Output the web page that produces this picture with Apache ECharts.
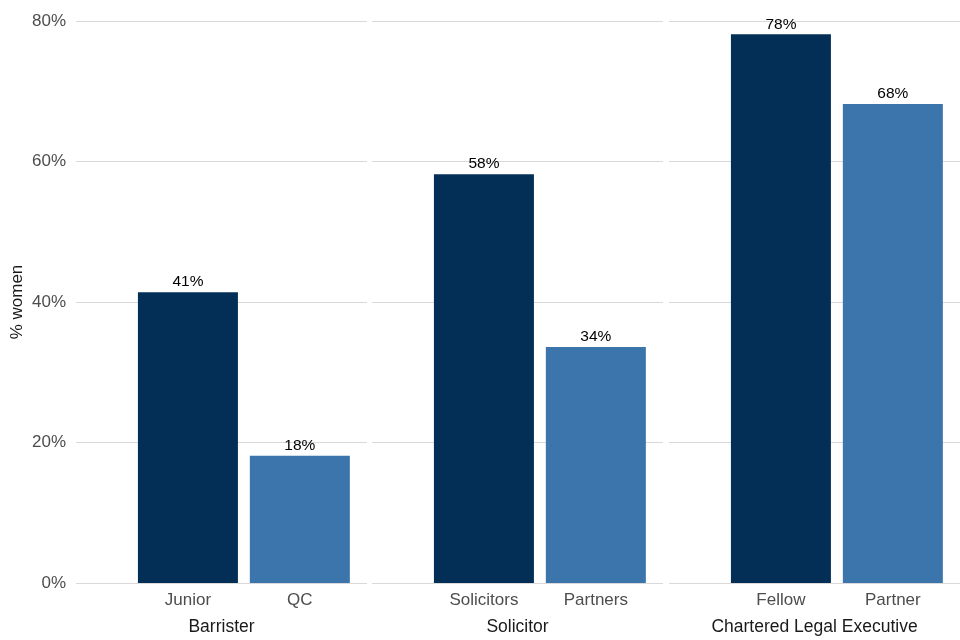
<!DOCTYPE html>
<html>
<head>
<meta charset="utf-8">
<script src="https://cdn.jsdelivr.net/npm/echarts@6/dist/echarts.min.js"></script>
<style>html,body{margin:0;padding:0;background:#fff}#c{width:960px;height:640px}</style>
</head>
<body>
<div id="c"></div>
<script>
const professions = ['Barrister', 'Solicitor', 'Chartered Legal Executive'];
const roles = [['Junior', 'QC'], ['Solicitors', 'Partners'], ['Fellow', 'Partner']];
const firstRoleValues = [41.4, 58.2, 78.1];
const secondRoleValues = [18.1, 33.6, 68.2];
const yTicks = [0, 20, 40, 60, 80];

const colors = ['#032f57', '#3b75ac'];
const FONT = '"Liberation Sans", Arial, sans-serif';
const panelLefts = [76, 372, 669];
const panelWidth = 291;

const grids = [], xAxes = [], yAxes = [], series = [];
professions.forEach((p, i) => {
  grids.push({left: panelLefts[i], width: panelWidth, top: 21, bottom: 57, containLabel: false, outerBoundsMode: 'none'});
  xAxes.push({
    type: 'value', gridIndex: i, min: 0, max: 2.6, interval: 1,
    axisLine: {show: false}, axisTick: {show: false}, splitLine: {show: false},
    axisLabel: {
      showMaxLabel: false, showMinLabel: false, margin: 9,
      color: '#4d4d4d', fontSize: 17, fontFamily: FONT,
      formatter: v => (v === 1 ? roles[i][0] : (v === 2 ? roles[i][1] : ''))
    },
    name: p, nameLocation: 'middle', nameGap: 35,
    nameTextStyle: {color: '#1a1a1a', fontSize: 17.5, fontFamily: FONT}
  });
  yAxes.push({
    type: 'value', gridIndex: i, min: yTicks[0], max: yTicks[yTicks.length - 1], interval: yTicks[1] - yTicks[0],
    axisLine: {show: false}, axisTick: {show: false},
    splitLine: {show: true, lineStyle: {color: '#d9d9d9', width: 1}},
    axisLabel: {show: i === 0, color: '#4d4d4d', fontSize: 17, fontFamily: FONT, margin: 10, padding: [11, 0, 0, 0], formatter: '{value}%'},
    name: i === 0 ? '% women' : '', nameLocation: 'middle', nameGap: 50,
    nameTextStyle: {color: '#1a1a1a', fontSize: 17, fontFamily: FONT}
  });
  series.push({
    type: 'bar', xAxisIndex: i, yAxisIndex: i, barWidth: 100,
    data: [
      {value: [1, firstRoleValues[i]], itemStyle: {color: colors[0]}},
      {value: [2, secondRoleValues[i]], itemStyle: {color: colors[1]}}
    ],
    label: {
      show: true, position: 'top', distance: 2, color: '#000', fontSize: 15.5, fontFamily: FONT,
      formatter: d => Math.round(d.value[1]) + '%'
    }
  });
});

const chart = echarts.init(document.getElementById('c'), null, {renderer: 'canvas'});
chart.setOption({
  animation: false,
  backgroundColor: '#ffffff',
  grid: grids, xAxis: xAxes, yAxis: yAxes, series: series
});
</script>
</body>
</html>
